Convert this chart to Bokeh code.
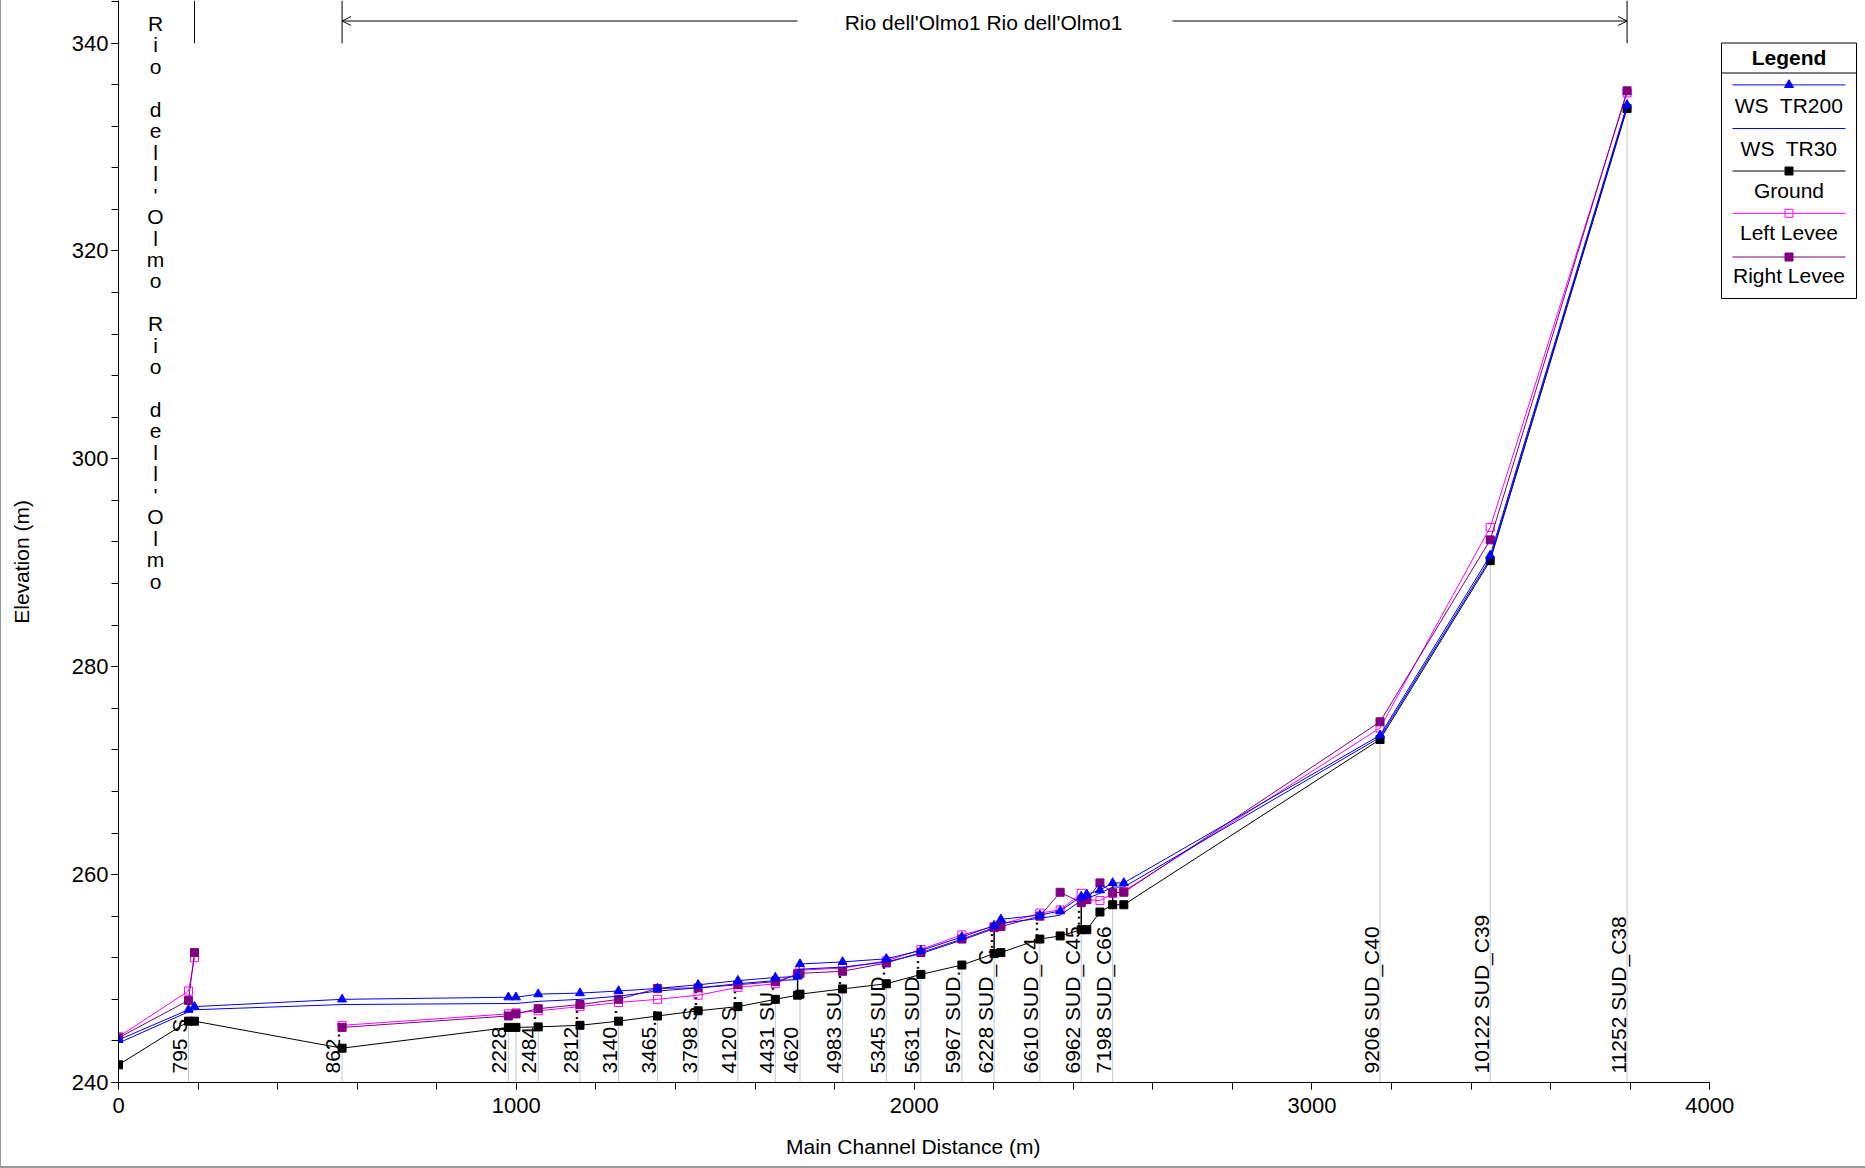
import math
import numpy as np
from bokeh.plotting import figure
from bokeh.models import Range1d, SingleIntervalTicker, Arrow, OpenHead
from bokeh.core.properties import value
from bokeh.embed import file_html
from bokeh.resources import INLINE

# ---------------- data ----------------
dist = [0, 176, 191, 562, 980, 999, 1055, 1160, 1257, 1355, 1457, 1557, 1651, 1707, 1713,
        1820, 1930, 2017, 2120, 2201, 2218, 2316, 2367, 2420, 2434, 2467, 2499, 2527,
        3171, 3448, 3792]
ground = [241.7, 245.9, 245.9, 243.3, 245.3, 245.3, 245.35, 245.5, 245.9, 246.4, 246.9, 247.3,
          248.0, 248.4, 248.5, 249.0, 249.5, 250.4, 251.3, 252.4, 252.5, 253.8, 254.1, 254.7,
          254.7, 256.4, 257.1, 257.1, 273.0, 290.2, 333.7]
ws_tr200 = [244.1, 247.0, 247.3, 248.0, 248.2, 248.2, 248.5, 248.6, 248.8, 249.05, 249.4, 249.8,
            250.1, 250.2, 251.4, 251.6, 251.9, 252.7, 254.0, 255.1, 255.7, 256.1, 256.5, 257.9,
            258.1, 258.5, 259.2, 259.2, 273.4, 290.7, 334.05]
ws_tr30 = [243.8, 246.8, 247.0, 247.5, 247.6, 247.6, 247.8, 248.0, 248.3, 248.8, 249.1, 249.5,
           249.8, 249.9, 250.9, 251.1, 251.6, 252.4, 253.7, 254.8, 255.3, 255.8, 256.1, 257.5,
           257.7, 258.2, 258.8, 258.8, 273.2, 290.4, 333.9]
left_levee = [244.4, 248.8, 252.0, 245.5, 246.6, 246.7, 246.9, 247.3, 247.7, 248.0, 248.4, 249.15,
              249.5, 250.5, 250.8, 251.0, 251.7, 252.8, 254.2, 255.0, 255.2, 256.3, 256.6, 258.2,
              257.6, 257.5, 258.2, 258.4, 274.1, 293.4, 335.2]
right_levee = [244.3, 247.9, 252.5, 245.3, 246.4, 246.6, 247.1, 247.5, 248.0, 249.05, 249.1, 249.4,
               249.7, 250.4, 250.5, 250.7, 251.5, 252.5, 253.8, 254.9, 255.0, 256.0, 258.3, 257.3,
               257.6, 259.2, 258.25, 258.3, 274.7, 292.2, 335.4]
levee_break_index = 3          # levee lines are not drawn between index 2 and 3

station_dist = [176, 562, 980, 1055, 1160, 1257, 1355, 1457, 1557, 1651, 1713, 1820, 1930, 2017,
                2120, 2201, 2316, 2420, 2499, 3171, 3448, 3792]
station_text = ["795 S", "862...", "2228", "2484...", "2812...", "3140...", "3465...", "3798 S...",
                "4120 S...", "4431 SU...", "4620", "4983 SU...", "5345 SUD...", "5631 SUD...",
                "5967 SUD...", "6228 SUD_C...", "6610 SUD_C4...", "6962 SUD_C45...",
                "7198 SUD_C66", "9206 SUD_C40", "10122 SUD_C39", "11252 SUD_C38"]
extra_xs_dist = [999]
structure_dist = [1707, 2201, 2420, 2499]

reach_main = "Rio dell'Olmo1 Rio dell'Olmo1"
reach_side = "Rio dell'Olmo Rio dell'Olmo"
x_title = "Main Channel Distance (m)"
y_title = "Elevation (m)"

# ---------------- layout ----------------
W, H = 1865, 1168
LEFT, BOTTOM = 118, 86
FW, FH = W - LEFT, H - BOTTOM
X_END = FW / 0.39783
Y_START = 240.0
Y_END = Y_START + FH / 10.395
FONT = "Liberation Sans"
NBSP = "\u00a0"


def dx(px):  # page pixel -> data x
    return (px - LEFT) / FW * X_END


def dy(py):  # page pixel -> data y
    return Y_END - py / FH * (Y_END - Y_START)


p = figure(width=W, height=H, x_range=Range1d(0, X_END), y_range=Range1d(Y_START, Y_END),
           output_backend="svg", toolbar_location=None,
           min_border_left=LEFT, min_border_right=0, min_border_top=0, min_border_bottom=BOTTOM)
p.xgrid.visible = False
p.ygrid.visible = False
p.outline_line_color = None
p.background_fill_color = "white"
p.border_fill_alpha = 0
p.styles = {"background-color": "white", "box-shadow": "inset 1px -2px 0 0 #9a9a9a"}

p.xaxis.ticker = SingleIntervalTicker(interval=1000, num_minor_ticks=5)
p.yaxis.ticker = SingleIntervalTicker(interval=20, num_minor_ticks=5)
p.xaxis.bounds = (0, 4000)
for ax in (p.xaxis, p.yaxis):
    ax.major_tick_in = 0
    ax.minor_tick_in = 0
    ax.major_tick_out = 7
    ax.minor_tick_out = 7
    ax.axis_line_color = "black"
    ax.major_tick_line_color = "black"
    ax.minor_tick_line_color = "black"
    ax.major_label_text_font = FONT
    ax.major_label_text_font_size = "22px"
    ax.major_label_text_color = "black"
    ax.axis_label_text_font = FONT
    ax.axis_label_text_font_size = "21px"
    ax.axis_label_text_font_style = "normal"
    ax.axis_label_text_color = "black"
p.xaxis.major_label_standoff = 8
p.yaxis.major_label_standoff = 3
# padding with no-break spaces moves the centred titles to where the reference has them
p.yaxis.axis_label = y_title + NBSP * 7
p.yaxis.axis_label_standoff = 36
p.xaxis.axis_label = x_title + NBSP * 27
p.xaxis.axis_label_standoff = 19

# cross-section marker lines
d_arr = np.array(dist, dtype=float)
g_arr = np.array(ground, dtype=float)
xs_all = np.array(station_dist + extra_xs_dist, dtype=float)
p.segment(x0=xs_all, x1=xs_all, y0=Y_START, y1=np.interp(xs_all, d_arr, g_arr),
          line_color="#C8C8C8", line_width=1)
p.text(x=station_dist, y=[Y_START] * len(station_dist), text=station_text, angle=math.pi / 2,
       text_align="left", text_baseline="alphabetic", x_offset=-9, y_offset=-9,
       text_font=value(FONT), text_font_size="21px", text_color="black")

# structures
s_arr = np.array(structure_dist, dtype=float)
p.segment(x0=s_arr, x1=s_arr, y0=np.interp(s_arr, d_arr, g_arr),
          y1=np.interp(s_arr, d_arr, np.array(ws_tr200)), line_color="black", line_width=1.5)


def with_break(vals):
    v = list(map(float, vals))
    return v[:levee_break_index] + [np.nan] + v[levee_break_index:]


d_brk = with_break(dist)

# series
p.line(d_brk, with_break(left_levee), line_color="#FF00FF", line_width=1)
p.scatter(dist, left_levee, marker="square", size=8, line_color="#FF00FF", fill_color=None)
p.line(d_brk, with_break(right_levee), line_color="#800080", line_width=1)
p.scatter(dist, right_levee, marker="square", size=8, line_color="#800080", fill_color="#800080")
p.line(dist, ground, line_color="black", line_width=1)
p.scatter(dist, ground, marker="square", size=8, line_color="black", fill_color="black")
p.line(dist, ws_tr30, line_color="#0000FF", line_width=1)
p.line(dist, ws_tr200, line_color="#0000FF", line_width=1)
p.scatter(dist, ws_tr200, marker="triangle", size=9, line_color="#0000FF", fill_color="#0000FF")

# reach annotation at top
y_arrow = dy(20.5)
p.segment(x0=[dist[2], dist[3], dist[-1]], x1=[dist[2], dist[3], dist[-1]],
          y0=dy(42.8), y1=Y_END, line_color="black", line_width=1)
p.add_layout(Arrow(end=OpenHead(size=9, line_width=1, line_color="black"), x_start=dx(797),
                   y_start=y_arrow, x_end=dist[3], y_end=y_arrow, line_width=1, line_color="black"))
p.add_layout(Arrow(end=OpenHead(size=9, line_width=1, line_color="black"), x_start=dx(1172),
                   y_start=y_arrow, x_end=dist[-1], y_end=y_arrow, line_width=1, line_color="black"))
p.text(x=[dx(983)], y=[dy(22)], text=[reach_main], text_align="center", text_baseline="middle",
       text_font=value(FONT), text_font_size="21px", text_color="black")
# vertical (stacked) name of the short first reach
chars = list(reach_side)
row_py = [23 + 21.45 * i for i in range(len(chars))]
p.text(x=[dx(155)] * len(chars), y=[dy(v) for v in row_py], text=chars, text_align="center",
       text_baseline="middle", text_font=value(FONT), text_font_size="21px", text_color="black")

# legend (drawn by hand, HEC-RAS style)
p.quad(left=dx(1721), right=dx(1856), top=dy(42.5), bottom=dy(298), fill_color="white",
       line_color="black", line_width=1)
p.segment(x0=dx(1721), x1=dx(1856), y0=dy(72.5), y1=dy(72.5), line_color="black", line_width=1)
p.text(x=[dx(1788.5)], y=[dy(57)], text=["Legend"], text_align="center", text_baseline="middle",
       text_font=value(FONT), text_font_size="21px", text_font_style="bold", text_color="black")
items = [("WS" + NBSP + " TR200", "#0000FF", "triangle", "#0000FF"),
         ("WS" + NBSP + " TR30", "#0000FF", None, None),
         ("Ground", "black", "square", "black"),
         ("Left Levee", "#FF00FF", "square", None),
         ("Right Levee", "#800080", "square", "#800080")]
line_py = [84.4, 128.0, 170.5, 212.8, 256.5]
text_py = [104.5, 147.5, 189.5, 232.0, 275.0]
for (lab, col, mk, fill), lp, tp in zip(items, line_py, text_py):
    p.line([dx(1732), dx(1845)], [dy(lp), dy(lp)], line_color=col, line_width=1)
    if mk is not None:
        p.scatter([dx(1788.5)], [dy(lp)], marker=mk, size=8 if mk == "square" else 9,
                  line_color=col, fill_color=fill)
    p.text(x=[dx(1788.5)], y=[dy(tp)], text=[lab], text_align="center", text_baseline="middle",
           text_font=value(FONT), text_font_size="21px", text_color="black")

open("out.html", "w").write(file_html(p, INLINE))
